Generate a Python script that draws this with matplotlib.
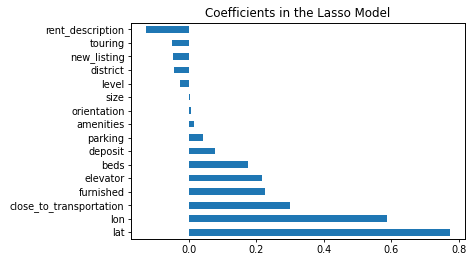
import matplotlib.pyplot as plt
import pandas as pd

# Lasso coefficients (bottom to top)
features = ['lat', 'lon', 'close_to_transportation', 'furnished', 'elevator',
            'beds', 'deposit', 'parking', 'amenities', 'orientation', 'size',
            'level', 'district', 'new_listing', 'touring', 'rent_description']
coefs = [0.773, 0.587, 0.299, 0.225, 0.216, 0.174, 0.077, 0.041, 0.015,
         0.006, 0.003, -0.027, -0.044, -0.047, -0.050, -0.127]

coef = pd.Series(coefs, index=features)

plt.rcParams['font.size'] = 7.0
fig = plt.figure(figsize=(4.74, 2.64), dpi=100)
ax = fig.add_axes([0.276, 0.095, 0.705, 0.819])
coef.plot(kind='barh', ax=ax, color='#1f77b4')
ax.set_title('Coefficients in the Lasso Model', fontsize=8.6, pad=4)
ax.tick_params(length=2.5, width=0.6, pad=2)
for s in ax.spines.values():
    s.set_linewidth(0.7)

fig.savefig('out.png', dpi=100)
